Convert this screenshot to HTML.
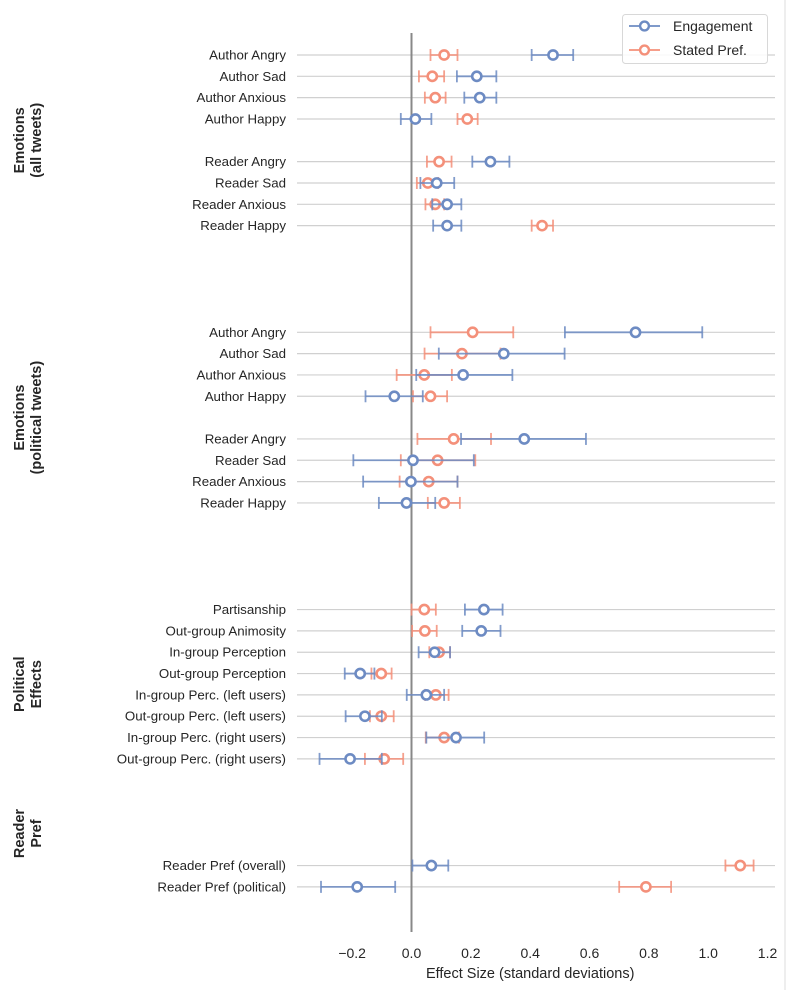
<!DOCTYPE html>
<html><head><meta charset="utf-8"><style>
body{margin:0;background:#fff;}
svg{display:block;font-family:"Liberation Sans",sans-serif;}
</style></head><body>
<svg id="chart" width="788" height="990">
<line x1="785" y1="0" x2="785" y2="990" stroke="#dddddd" stroke-width="1"/>
</svg>
<script>
const labels = ["Author Angry","Author Sad","Author Anxious","Author Happy","Reader Angry","Reader Sad","Reader Anxious","Reader Happy",
"Author Angry","Author Sad","Author Anxious","Author Happy","Reader Angry","Reader Sad","Reader Anxious","Reader Happy",
"Partisanship","Out-group Animosity","In-group Perception","Out-group Perception","In-group Perc. (left users)","Out-group Perc. (left users)","In-group Perc. (right users)","Out-group Perc. (right users)",
"Reader Pref (overall)","Reader Pref (political)"];
const rowIndex = [0,1,2,3,5,6,7,8, 13,14,15,16,18,19,20,21, 26,27,28,29,30,31,32,33, 38,39];
const engVal = [0.477,0.22,0.23,0.013,0.266,0.085,0.12,0.12, 0.755,0.311,0.174,-0.058,0.38,0.005,-0.002,-0.017, 0.244,0.235,0.078,-0.173,0.05,-0.157,0.15,-0.207, 0.067,-0.183];
const engLo = [0.405,0.153,0.178,-0.036,0.205,0.03,0.07,0.073, 0.517,0.092,0.016,-0.155,0.167,-0.196,-0.163,-0.11, 0.18,0.171,0.024,-0.225,-0.016,-0.222,0.05,-0.31, 0.003,-0.305];
const engHi = [0.545,0.286,0.286,0.067,0.33,0.144,0.168,0.168, 0.98,0.516,0.34,0.038,0.588,0.21,0.155,0.08, 0.307,0.30,0.13,-0.125,0.11,-0.1,0.245,-0.1, 0.124,-0.055];
const spVal = [0.11,0.07,0.08,0.188,0.093,0.055,0.08,0.44, 0.206,0.17,0.043,0.064,0.142,0.088,0.058,0.11, 0.043,0.045,0.093,-0.102,0.082,-0.102,0.11,-0.092, 1.108,0.79];
const spLo = [0.064,0.025,0.045,0.155,0.052,0.018,0.047,0.405, 0.064,0.044,-0.05,0.005,0.02,-0.036,-0.04,0.055, 0.0,0.002,0.06,-0.135,0.046,-0.14,0.048,-0.157, 1.058,0.70];
const spHi = [0.155,0.11,0.115,0.223,0.135,0.09,0.11,0.477, 0.343,0.30,0.136,0.12,0.268,0.215,0.155,0.163, 0.082,0.085,0.13,-0.067,0.125,-0.06,0.16,-0.028, 1.153,0.875];
const xTicks = [-0.2,0,0.2,0.4,0.6,0.8,1.0,1.2];
const xTickLabels = ["\u22120.2","0.0","0.2","0.4","0.6","0.8","1.0","1.2"];
const groupNames = [["Emotions","(all tweets)"],["Emotions","(political tweets)"],["Political","Effects"],["Reader","Pref"]];
const groupCenterRow = [4,17,29.5,36.5];

const svg = document.getElementById('chart');
const NS = "http://www.w3.org/2000/svg";
const x = v => 411.5 + v*296.7;
const y = r => 55 + r*21.33;
const BLUE="#6d8bc3", ORANGE="#f4907a";
function mk(tag, attrs){const e=document.createElementNS(NS,tag);for(const k in attrs)e.setAttribute(k,attrs[k]);svg.appendChild(e);return e;}

labels.forEach((lab,i)=>{
  const yy=y(rowIndex[i]);
  const g=mk('line',{x1:297,y1:yy,x2:775,y2:yy,stroke:"#d0d0d0","stroke-width":1.2});
  
  
  const t=mk('text',{x:286,y:yy+4.5,"text-anchor":"end","font-size":13.3,fill:"#262626"});
  t.textContent=lab;
  
  
});
const z=mk('line',{x1:x(0),y1:33,x2:x(0),y2:932,stroke:"#888","stroke-width":2});



function series(vals,lo,hi,color,name){
  vals.forEach((v,i)=>{
    const yy=y(rowIndex[i]);
    const l=mk('line',{x1:x(lo[i]),y1:yy,x2:x(hi[i]),y2:yy,stroke:color,"stroke-width":1.8,opacity:0.85});
    
    
    [lo[i],hi[i]].forEach(c=>{
      const cap=mk('line',{x1:x(c),y1:yy-6,x2:x(c),y2:yy+6,stroke:color,"stroke-width":1.8,opacity:0.85});
      
      
    });
    const p=mk('circle',{cx:x(v),cy:yy,r:4.6,fill:"#fff",stroke:color,"stroke-width":2.6});
    
    
  });
}
series(spVal,spLo,spHi,ORANGE,'stated-pref');
series(engVal,engLo,engHi,BLUE,'engagement');

xTicks.forEach((v,i)=>{
  const t=mk('text',{x:x(v),y:958,"text-anchor":"middle","font-size":14,fill:"#262626"});
  t.textContent=xTickLabels[i];
  
  
});
const xt=mk('text',{x:x(0.4),y:978,"text-anchor":"middle","font-size":14.5,fill:"#262626"});
xt.textContent="Effect Size (standard deviations)";



groupNames.forEach((g,i)=>{
  const cy=y(groupCenterRow[i]);
  const t=mk('text',{transform:`translate(24,${cy}) rotate(-90)`,"text-anchor":"middle","font-size":14.5,"font-weight":"bold",fill:"#262626"});
  
  
  g.forEach((line,j)=>{const ts=document.createElementNS(NS,'tspan');ts.setAttribute('x',0);ts.setAttribute('dy',j===0?0:17);ts.textContent=line;t.appendChild(ts);});
});

// legend
const lg=mk('rect',{x:622.5,y:14.5,width:145,height:49,rx:3,fill:"#fff","fill-opacity":0.85,stroke:"#d8d8d8"});


[[BLUE,"Engagement",26],[ORANGE,"Stated Pref.",50]].forEach(([c,txt,yy])=>{
  const l=mk('line',{x1:629,y1:yy,x2:660,y2:yy,stroke:c,"stroke-width":1.8});
  
  
  const ci=mk('circle',{cx:644.5,cy:yy,r:4.4,fill:"#fff",stroke:c,"stroke-width":2.4});
  
  
  const t=mk('text',{x:673,y:yy+5,"font-size":14,fill:"#262626"});
  t.textContent=txt;
  
  
});
</script>
</body></html>
